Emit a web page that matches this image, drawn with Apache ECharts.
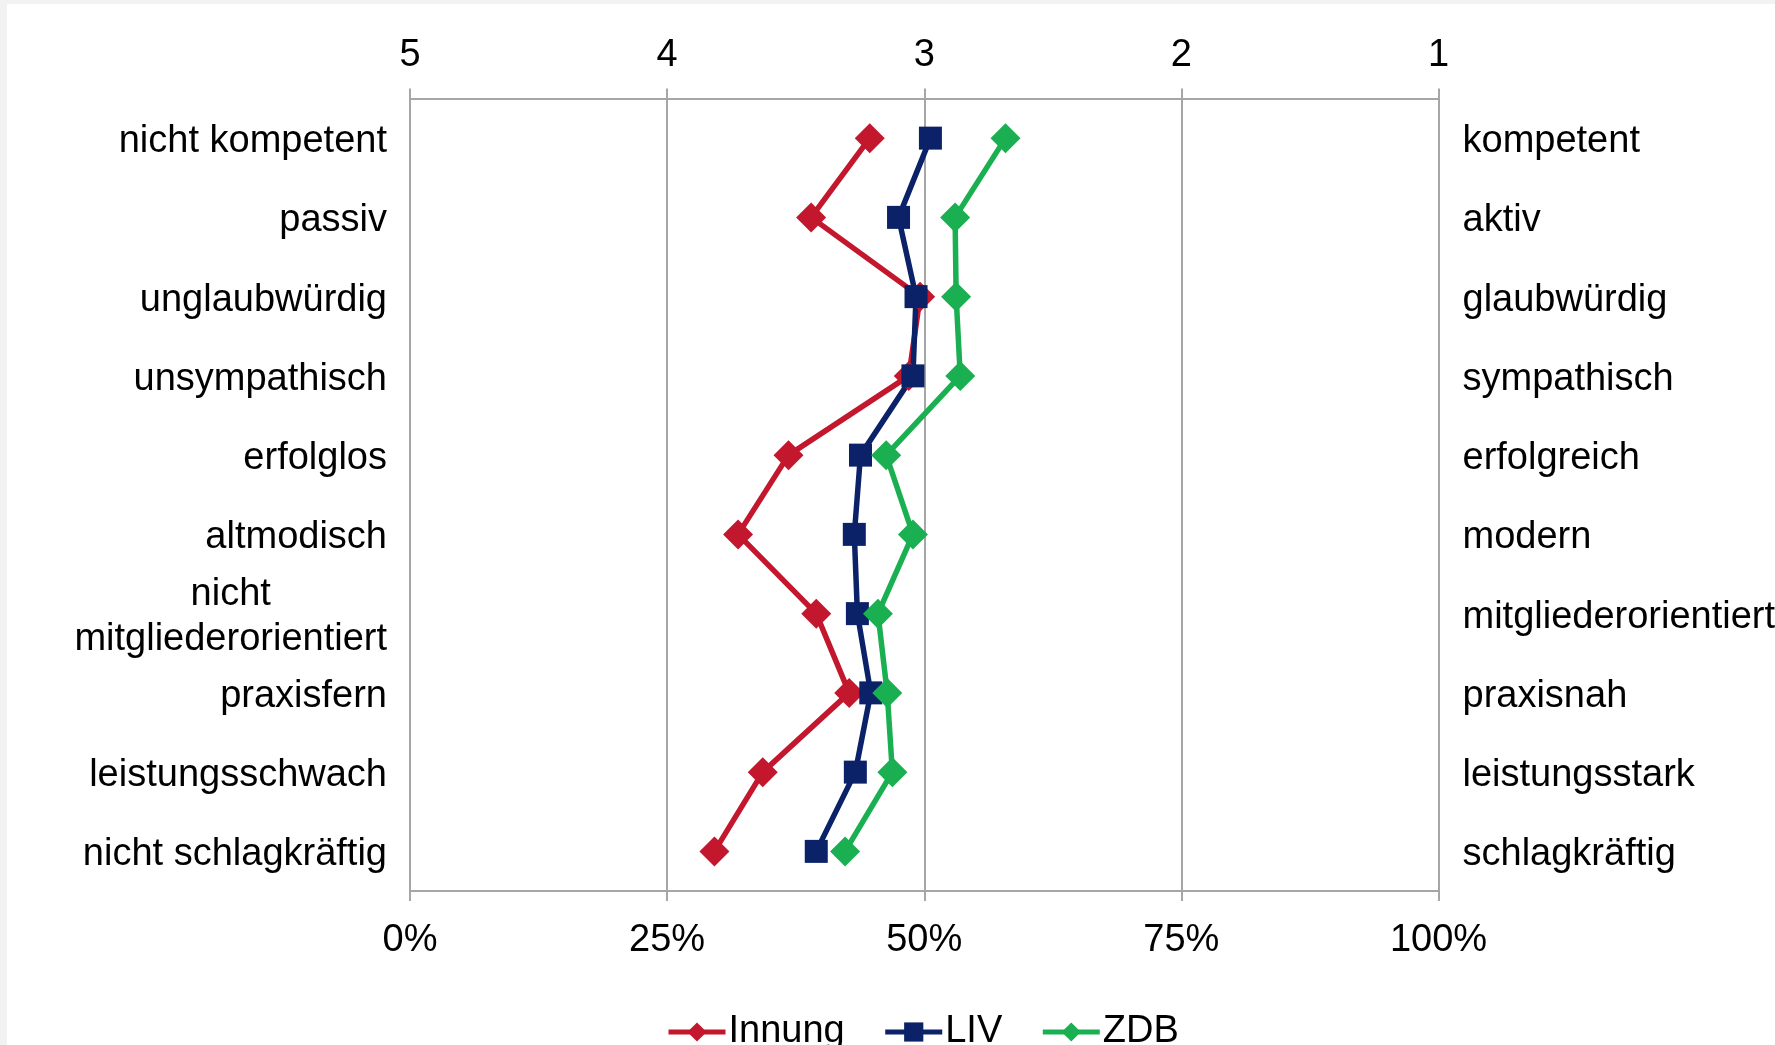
<!DOCTYPE html>
<html>
<head>
<meta charset="utf-8">
<script src="https://cdn.jsdelivr.net/npm/echarts@6/dist/echarts.min.js"></script>
<style>
  html, body { margin: 0; padding: 0; background: #f2f2f2; width: 1775px; height: 1045px; overflow: hidden; }
  #chart { position: absolute; left: 7px; top: 4px; width: 1768px; height: 1041px; background: #ffffff; }
</style>
</head>
<body>
<div id="chart"></div>
<script>
// Category labels (left = negative pole, right = positive pole)
const leftLabels = ['nicht kompetent', 'passiv', 'unglaubwürdig', 'unsympathisch', 'erfolglos', 'altmodisch', 'nicht\nmitgliederorientiert', 'praxisfern', 'leistungsschwach', 'nicht schlagkräftig'];
const rightLabels = ['kompetent', 'aktiv', 'glaubwürdig', 'sympathisch', 'erfolgreich', 'modern', 'mitgliederorientiert', 'praxisnah', 'leistungsstark', 'schlagkräftig'];

// Series values in percent (0% = 5, 100% = 1)
const innung = [44.7, 39.0, 49.6, 48.5, 36.8, 31.9, 39.5, 42.7, 34.3, 29.6];
const liv    = [50.6, 47.5, 49.2, 48.9, 43.8, 43.2, 43.5, 44.8, 43.3, 39.5];
const zdb    = [57.9, 53.0, 53.1, 53.5, 46.3, 48.9, 45.5, 46.4, 46.9, 42.3];

const FONT = "'Liberation Sans', Arial, Helvetica, sans-serif";
const FS = 38;
const GRAY = '#a6a6a6';

const chart = echarts.init(document.getElementById('chart'));
chart.setOption({
  animation: false,
  textStyle: { fontFamily: FONT },
  grid: { left: 403, right: 336.5, top: 94.5, bottom: 154, containLabel: false, outerBoundsMode: 'none' },
  legend: {
    top: 1004,
    left: 654,
    itemWidth: 57,
    itemHeight: 24,
    itemGap: 38,
    lineStyle: { width: 5 },
    textStyle: { fontSize: FS, color: '#000', fontFamily: FONT, padding: [0, 0, 0, -2] },
    data: ['Innung', 'LIV', 'ZDB']
  },
  xAxis: [
    {
      type: 'value', position: 'bottom', min: 0, max: 100, interval: 25,
      axisLine: { show: true, lineStyle: { color: GRAY, width: 2 } },
      axisTick: { show: true, length: 10, lineStyle: { color: GRAY, width: 2 } },
      splitLine: { show: true, lineStyle: { color: GRAY, width: 2 } },
      axisLabel: { fontSize: FS, color: '#000', margin: 30.5, formatter: v => v + '%' }
    },
    {
      type: 'value', position: 'top', min: 1, max: 5, interval: 1, inverse: true,
      axisLine: { show: true, lineStyle: { color: GRAY, width: 2 } },
      axisTick: { show: true, length: 10, lineStyle: { color: GRAY, width: 2 } },
      splitLine: { show: false },
      axisLabel: { fontSize: FS, color: '#000', margin: 23.5 }
    }
  ],
  yAxis: [
    {
      type: 'category', position: 'left', inverse: true, data: leftLabels, boundaryGap: true,
      axisLine: { show: true, lineStyle: { color: GRAY, width: 2 } },
      axisTick: { show: false },
      splitLine: { show: false },
      axisLabel: {
        fontSize: FS, color: '#000', margin: 23, align: 'right', padding: [7, 0, 0, 0],
        formatter: v => v.split('\n').map(s => '{c|' + s + '}').join('\n'),
        rich: { c: { align: 'center', fontSize: FS, lineHeight: 45, color: '#000', fontFamily: FONT } }
      }
    },
    {
      type: 'category', position: 'right', inverse: true, data: rightLabels, boundaryGap: true,
      axisLine: { show: true, lineStyle: { color: GRAY, width: 2 } },
      axisTick: { show: false },
      splitLine: { show: false },
      axisLabel: {
        fontSize: FS, color: '#000', margin: 24, align: 'left', padding: [7, 0, 0, 0],
        formatter: v => '{r|' + v + '}',
        rich: { r: { fontSize: FS, lineHeight: 45, color: '#000', fontFamily: FONT } }
      }
    }
  ],
  series: [
    {
      name: 'Innung', type: 'line', xAxisIndex: 0, yAxisIndex: 0, data: innung,
      symbol: 'diamond', symbolSize: 30,
      lineStyle: { color: '#c3172e', width: 5.5 },
      itemStyle: { color: '#c3172e' }
    },
    {
      name: 'LIV', type: 'line', xAxisIndex: 0, yAxisIndex: 0, data: liv,
      symbol: 'rect', symbolSize: 23,
      lineStyle: { color: '#0b2268', width: 5.5 },
      itemStyle: { color: '#0b2268' }
    },
    {
      name: 'ZDB', type: 'line', xAxisIndex: 0, yAxisIndex: 0, data: zdb,
      symbol: 'diamond', symbolSize: 30,
      lineStyle: { color: '#1aaf50', width: 5.5 },
      itemStyle: { color: '#1aaf50' }
    }
  ]
});
</script>
</body>
</html>
